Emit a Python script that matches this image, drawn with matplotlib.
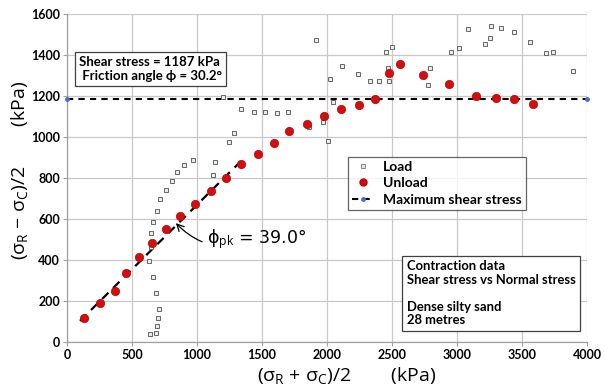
import numpy as np
import matplotlib
matplotlib.use("Agg")
import matplotlib.pyplot as plt
from matplotlib.lines import Line2D

plt.rcParams['font.family'] = ['Lato', 'Open Sans', 'DejaVu Sans']
plt.rcParams['mathtext.fontset'] = 'custom'
plt.rcParams['mathtext.rm'] = 'Open Sans'
plt.rcParams['mathtext.it'] = 'Open Sans'

# ---- data ----
load_x = [638, 685, 692, 702, 705, 685, 659, 633, 644, 646, 664, 692, 718, 762, 808, 849,
          903, 969, 1126, 1141, 1197, 1244, 1282, 1338, 1441, 1526, 1615, 1700, 1859, 1913,
          1969, 2008, 2023, 2044, 2115, 2236, 2331, 2402, 2475, 2469, 2454, 2500, 2777, 2790,
          2951, 3018, 3085, 3218, 3256, 3259, 3341, 3441, 3562, 3682, 3736, 3892]
load_y = [37, 42, 80, 115, 159, 237, 316, 395, 465, 532, 587, 641, 698, 743, 785, 828,
          862, 888, 815, 880, 1195, 974, 1019, 1137, 1122, 1120, 1117, 1122, 1050, 1473,
          1072, 980, 1281, 1169, 1348, 1306, 1275, 1273, 1273, 1335, 1413, 1441, 1254, 1335,
          1413, 1434, 1525, 1454, 1484, 1543, 1532, 1514, 1463, 1408, 1416, 1323]
unload_x = [131, 254, 369, 451, 554, 656, 762, 867, 982, 1105, 1223, 1338, 1473, 1595, 1708,
            1849, 1977, 2108, 2246, 2367, 2477, 2562, 2741, 2936, 3144, 3298, 3436, 3587]
unload_y = [118, 190, 247, 335, 415, 484, 551, 615, 673, 738, 802, 868, 918, 969, 1028,
            1064, 1101, 1135, 1154, 1187, 1312, 1356, 1301, 1259, 1202, 1190, 1185, 1163]
max_shear = 1187
max_x = [0, 4000]
phi_pk = 39.0
fit_intercept = 40
fit_x = [100, 1350]
x_ticks = [0, 500, 1000, 1500, 2000, 2500, 3000, 3500, 4000]
y_ticks = [0, 200, 400, 600, 800, 1000, 1200, 1400, 1600]

fig = plt.figure(figsize=(6.05, 3.89), dpi=100)
ax = fig.add_axes([67/605, 1-342/389, 520/605, 328/389])

grid_c = '#c8c8c8'
for spine in ['top', 'right']:
    ax.spines[spine].set_visible(False)
for spine in ['left', 'bottom']:
    ax.spines[spine].set_color('#a0a0a0')
    ax.spines[spine].set_linewidth(0.9)
ax.set_xlim(0, 4000)
ax.set_ylim(0, 1600)
ax.set_xticks(x_ticks)
ax.set_yticks(y_ticks)
ax.grid(True, color=grid_c, linewidth=0.9)
ax.set_axisbelow(True)
ax.tick_params(axis='both', length=3, color='#a0a0a0', labelsize=9, pad=2)
for lab in ax.get_xticklabels() + ax.get_yticklabels():
    lab.set_fontweight('bold')

# fit line
fx = np.array(fit_x, dtype=float)
fy = fx * np.sin(np.radians(phi_pk)) + fit_intercept
ax.plot(fx, fy, color='black', linestyle=(0, (4, 3)), linewidth=1.6, zorder=3)

# max shear line
ax.plot(max_x, [max_shear, max_shear], color='black', linestyle=(0, (3, 2.5)),
        linewidth=1.5, marker='o', markersize=2.5, markerfacecolor='#4472c4',
        markeredgecolor='#4472c4', zorder=3, clip_on=False)

ax.plot(load_x, load_y, linestyle='none', marker='s', markersize=3.3,
        markerfacecolor='#ececec', markeredgecolor='#666666', markeredgewidth=0.7, zorder=4)
ax.plot(unload_x, unload_y, linestyle='none', marker='o', markersize=6,
        markerfacecolor='#d01010', markeredgecolor='#c00000', markeredgewidth=0.5, zorder=5)

# annotation
ax.annotate(r'ϕ$_{\rm pk}$ = 39.0°', xy=(830, 585), xytext=(1080, 500),
            fontsize=12.5, va='center', ha='left', family=['DejaVu Sans'],
            arrowprops=dict(arrowstyle='->', color='black', lw=0.9,
                            connectionstyle='arc3,rad=-0.35', shrinkA=2, shrinkB=1))

# text boxes
ax.text(92, 1395, 'Shear stress = 1187 kPa\n Friction angle ϕ = 30.2°',
        fontsize=9.5, fontweight='bold', va='top', ha='left', linespacing=1.2,
        bbox=dict(boxstyle='square,pad=0.3', facecolor='white', edgecolor='#404040', lw=0.9),
        zorder=6)
ax.text(2615, 398, 'Contraction data\nShear stress vs Normal stress\n\nDense silty sand\n28 metres',
        fontsize=9.4, fontweight='bold', va='top', ha='left', linespacing=1.15,
        bbox=dict(boxstyle='square,pad=0.35', facecolor='white', edgecolor='#404040', lw=0.9),
        zorder=6)

handles = [
    Line2D([], [], linestyle='none', marker='s', markersize=3, markerfacecolor='#e4e4e4',
           markeredgecolor='#777777', markeredgewidth=0.6),
    Line2D([], [], linestyle='none', marker='o', markersize=5, markerfacecolor='#d01010',
           markeredgecolor='#c00000'),
    Line2D([], [], color='black', linestyle=(0, (3, 2.5)), linewidth=1.5, marker='o',
           markersize=2.5, markerfacecolor='#4472c4', markeredgecolor='#4472c4', markevery=[1]),
]
leg = ax.legend(handles, ['Load', 'Unload', 'Maximum shear stress'],
                loc='upper left', bbox_to_anchor=((348-67)/520, (342-157)/328),
                prop={'weight': 'bold', 'size': 10}, frameon=True, fancybox=False,
                edgecolor='#404040', handlelength=1.6, handletextpad=0.6,
                borderpad=0.3, labelspacing=0.3, borderaxespad=0)
leg.get_frame().set_linewidth(0.9)
leg.set_zorder(7)

ax.set_xlabel(r'(σ$_{\rm R}$ + σ$_{\rm C}$)/2        (kPa)', fontsize=14, family=['Open Sans', 'DejaVu Sans'])
ax.xaxis.set_label_coords((347-67)/520, (342-376)/328)
ax.xaxis.label.set_va('center')
ax.set_ylabel(r'(σ$_{\rm R}$ − σ$_{\rm C}$)/2        (kPa)', fontsize=14, family=['Open Sans', 'DejaVu Sans'])
ax.yaxis.set_label_coords((20-67)/520, (342-170)/328)
ax.yaxis.label.set_va('center')

fig.savefig('out.png', dpi=100)
